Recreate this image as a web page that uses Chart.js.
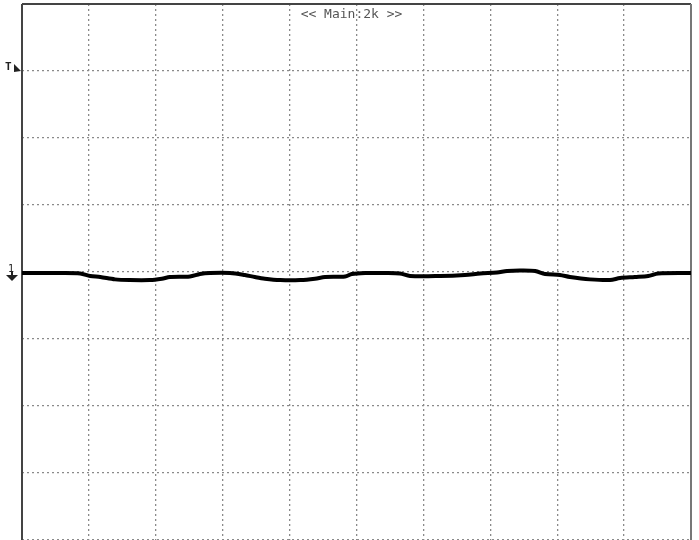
<!DOCTYPE html>
<html>
<head>
<meta charset="utf-8">
<script src="https://cdn.jsdelivr.net/npm/chart.js@4/dist/chart.umd.min.js"></script>
<style>
  html,body{margin:0;padding:0;background:#fff;}
  #wrap{width:699px;height:540px;position:relative;}
</style>
</head>
<body>
<div id="wrap"><canvas id="c" width="699" height="540"></canvas></div>
<script>
// time in horizontal divisions (0..10)
const timeDiv = [0,0.27,0.57,0.87,1.02,1.17,1.39,1.61,1.91,2.09,2.21,2.51,2.66,2.81,3.11,3.33,3.48,3.63,3.86,4.16,4.38,4.53,4.83,4.93,5.13,5.43,5.65,5.80,6.25,6.62,6.85,7.10,7.25,7.44,7.67,7.82,8.04,8.19,8.49,8.79,8.94,9.16,9.36,9.51,10];
// trace level in vertical divisions
const traceDiv = [-0.015,-0.015,-0.015,-0.022,-0.06,-0.075,-0.11,-0.12,-0.12,-0.10,-0.075,-0.067,-0.03,-0.015,-0.015,-0.045,-0.075,-0.10,-0.12,-0.12,-0.10,-0.075,-0.067,-0.03,-0.015,-0.015,-0.022,-0.06,-0.06,-0.045,-0.022,-0.007,0.015,0.022,0.015,-0.03,-0.045,-0.075,-0.11,-0.12,-0.09,-0.075,-0.06,-0.022,-0.015];
const xTicks = [0,1,2,3,4,5,6,7,8,9,10];
const yTicks = [-4,-3,-2,-1,0,1,2,3,4];
const headerText = "<< Main:2k >>";
const triggerLevel = 3;
const groundLevel = 0;

const points = timeDiv.map((t,i)=>({x:t,y:traceDiv[i]}));

const overlay = {
  id:'overlay',
  afterDraw(chart){
    const ctx = chart.ctx, a = chart.chartArea;
    const ys = chart.scales.y;
    ctx.save();
    // header text
    ctx.font = '13px "DejaVu Sans Mono", monospace';
    ctx.fillStyle = '#555';
    ctx.textAlign = 'center';
    ctx.textBaseline = 'middle';
    ctx.fillText(headerText, (a.left+a.right)/2 - 5, a.top + 11);
    // trigger marker
    const ty = ys.getPixelForValue(triggerLevel);
    ctx.fillStyle = '#222';
    ctx.font = 'bold 11px "DejaVu Sans Mono", monospace';
    ctx.textAlign = 'left';
    ctx.fillText('T', 5, ty - 4);
    ctx.beginPath();
    ctx.moveTo(14, ty-7); ctx.lineTo(21, ty); ctx.lineTo(14, ty+1); ctx.closePath();
    ctx.fill();
    // ground marker
    const gy = ys.getPixelForValue(groundLevel);
    ctx.font = '10px "DejaVu Sans Mono", monospace';
    ctx.fillText('1', 8, gy - 3);
    ctx.beginPath();
    ctx.moveTo(6, gy+3); ctx.lineTo(18, gy+3); ctx.lineTo(12, gy+9); ctx.closePath();
    ctx.fill();
    ctx.fillRect(11, gy-1, 2, 5);
    ctx.restore();
  }
};

new Chart(document.getElementById('c'), {
  type:'scatter',
  data:{datasets:[{
    data:points,
    showLine:true,
    borderColor:'#000',
    borderWidth:4,
    pointRadius:0,
    tension:0.3,
    fill:false
  }]},
  options:{
    responsive:false,
    animation:false,
    events:[],
    layout:{padding:{left:22,right:8,top:4,bottom:0}},
    plugins:{legend:{display:false},tooltip:{enabled:false},title:{display:false}},
    scales:{
      x:{
        type:'linear', min:0, max:10,
        afterBuildTicks(s){ s.ticks = xTicks.map(v=>({value:v})); },
        ticks:{display:false},
        grid:{color:'#8a8a8a', lineWidth:1.3, drawTicks:false},
        border:{display:false, dash:[2,3]}
      },
      y:{
        type:'linear', min:-4, max:4,
        afterBuildTicks(s){ s.ticks = yTicks.map(v=>({value:v})); },
        ticks:{display:false},
        grid:{color:'#8a8a8a', lineWidth:1.3, drawTicks:false},
        border:{display:false, dash:[2,3]}
      }
    }
  },
  plugins:[overlay, {
    id:'frame',
    beforeDatasetsDraw(chart){
      const ctx = chart.ctx, a = chart.chartArea;
      ctx.save();
      ctx.lineWidth = 2;
      ctx.strokeStyle = '#444';
      ctx.beginPath();
      ctx.moveTo(a.left, a.top); ctx.lineTo(a.right, a.top);
      ctx.moveTo(a.left, a.top); ctx.lineTo(a.left, a.bottom);
      ctx.stroke();
      ctx.strokeStyle = '#777';
      ctx.beginPath();
      ctx.moveTo(a.right, a.top); ctx.lineTo(a.right, a.bottom);
      ctx.stroke();
      ctx.restore();
    }
  }]
});
</script>
</body>
</html>
